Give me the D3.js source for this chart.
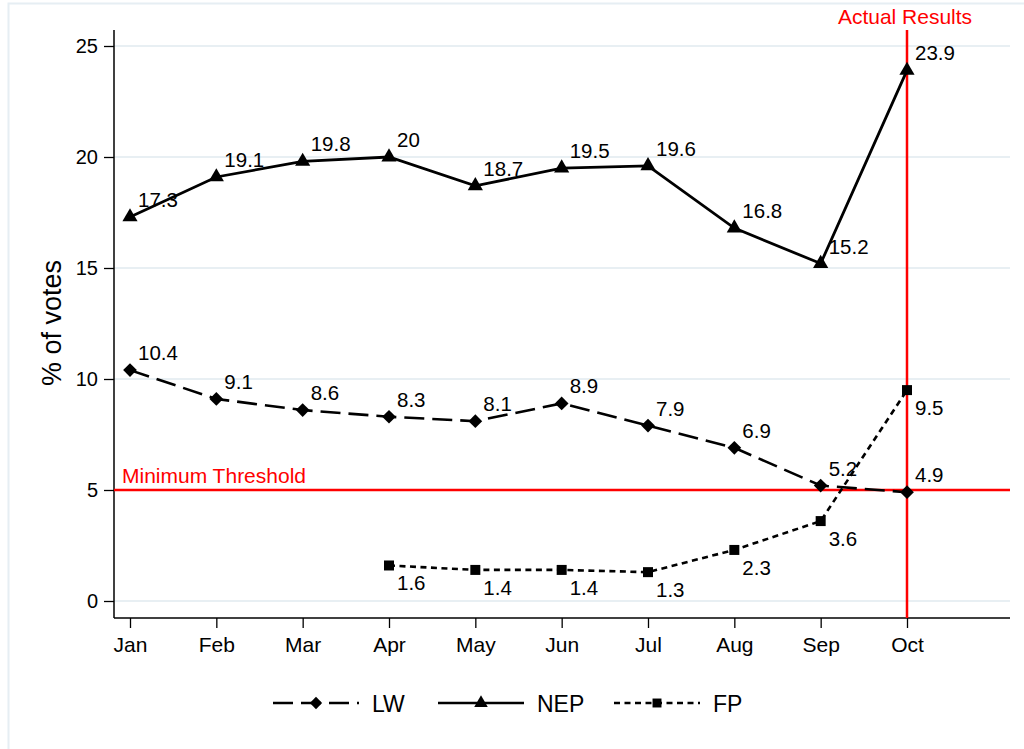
<!DOCTYPE html>
<html><head><meta charset="utf-8">
<script src="https://cdn.jsdelivr.net/npm/d3@7"></script>
<style>
body{margin:0;background:#fff;}
svg{display:block;font-family:"Liberation Sans",Arial,sans-serif;}
</style></head>
<body>
<svg id="chart" width="1024" height="749"></svg>
<script>
const months = ["Jan","Feb","Mar","Apr","May","Jun","Jul","Aug","Sep","Oct"];
const lwValues  = [10.4, 9.1, 8.6, 8.3, 8.1, 8.9, 7.9, 6.9, 5.2, 4.9];
const nepValues = [17.3, 19.1, 19.8, 20, 18.7, 19.5, 19.6, 16.8, 15.2, 23.9];
const fpMonths  = ["Apr","May","Jun","Jul","Aug","Sep","Oct"];
const fpValues  = [1.6, 1.4, 1.4, 1.3, 2.3, 3.6, 9.5];
const yTicks = [0, 5, 10, 15, 20, 25];
const threshold = 5;
const resultMonth = "Oct";

(function(){
const svg = d3.select("#chart");

// outer frame
svg.append("rect").attr("x",8.5).attr("y",3.5).attr("width",1030).attr("height",760)
  .attr("fill","none").attr("stroke","#e6eef3").attr("stroke-width",2);

const x = d3.scalePoint().domain(months).range([130, 907]);
const pLeft = 114, pRight = 1010, pTop = 30, pBottom = 618;
const y = d3.scaleLinear().domain([0, 25]).range([601, 46]);

// gridlines
svg.append("g").selectAll("line").data(yTicks).join("line")
  .attr("x1", pLeft).attr("x2", pRight)
  .attr("y1", d => y(d)).attr("y2", d => y(d))
  .attr("stroke","#e8eff3").attr("stroke-width",2);

// y axis
const yAxis = svg.append("g").attr("transform",`translate(${pLeft},0)`)
  .call(d3.axisLeft(y).tickValues(yTicks).tickSize(10).tickPadding(6));
yAxis.select(".domain").remove();
yAxis.selectAll("line").attr("stroke","#000").attr("stroke-width",1.3);
yAxis.selectAll("text").attr("font-size",20).attr("fill","#000").style("font-family","Liberation Sans, Arial, sans-serif");
svg.append("line").attr("x1",pLeft).attr("x2",pLeft).attr("y1",pTop).attr("y2",pBottom)
  .attr("stroke","#000").attr("stroke-width",1.5);

// x axis
const xAxis = svg.append("g").attr("transform",`translate(0,${pBottom})`)
  .call(d3.axisBottom(x).tickSize(10).tickPadding(9));
xAxis.select(".domain").remove();
xAxis.selectAll("line").attr("stroke","#000").attr("stroke-width",1.3);
xAxis.selectAll("text").attr("font-size",21).attr("fill","#000").style("font-family","Liberation Sans, Arial, sans-serif");
svg.append("line").attr("x1",pLeft).attr("x2",pRight).attr("y1",pBottom).attr("y2",pBottom)
  .attr("stroke","#000").attr("stroke-width",1.5);

// y title
svg.append("text").attr("transform",`translate(61,323) rotate(-90)`)
  .attr("text-anchor","middle").attr("font-size",27).attr("fill","#000").text("% of votes");

// threshold line
svg.append("line").attr("x1",pLeft).attr("x2",pRight).attr("y1",y(threshold)).attr("y2",y(threshold))
  .attr("stroke","#ff0000").attr("stroke-width",2.5);
svg.append("text").attr("x",122).attr("y",y(threshold)-7).attr("font-size",21).attr("fill","#ff0000").text("Minimum Threshold");

// actual results line
svg.append("line").attr("x1",x(resultMonth)).attr("x2",x(resultMonth)).attr("y1",pTop).attr("y2",pBottom)
  .attr("stroke","#ff0000").attr("stroke-width",2.5);
svg.append("text").attr("x",x(resultMonth)-2).attr("y",24).attr("text-anchor","middle").attr("font-size",21).attr("fill","#ff0000").text("Actual Results");

const line = d3.line().x(d => x(d.m)).y(d => y(d.v));
const lw = months.map((m,i)=>({m, v: lwValues[i]}));
const nep = months.map((m,i)=>({m, v: nepValues[i]}));
const fp = fpMonths.map((m,i)=>({m, v: fpValues[i]}));

const series = [
  {name:"LW", data: lw, dash:"20,8", width:2.6, symbol:d3.symbolDiamond2, size:120, labelDy:-10},
  {name:"NEP", data: nep, dash:null, width:2.8, symbol:d3.symbolTriangle, size:100, labelDy:-10},
  {name:"FP", data: fp, dash:"6,4.5", width:2.6, symbol:d3.symbolSquare, size:100, labelDy:25}
];

series.forEach(s => {
  svg.append("path").datum(s.data).attr("d", line).attr("fill","none")
    .attr("stroke","#000").attr("stroke-width",s.width)
    .attr("stroke-dasharray", s.dash);
  svg.append("g").selectAll("path").data(s.data).join("path")
    .attr("transform", d => `translate(${x(d.m)},${y(d.v)})`)
    .attr("d", d3.symbol().type(s.symbol).size(s.size))
    .attr("fill","#000");
  svg.append("g").selectAll("text").data(s.data).join("text")
    .attr("x", d => x(d.m) + 8)
    .attr("y", d => y(d.v) + s.labelDy)
    .attr("font-size",20.5).attr("fill","#000")
    .text(d => d.v);
});

// legend
const legendY = 703;
const legendX = [273, 438, 614];
series.forEach((s,i) => {
  const g = svg.append("g").attr("transform",`translate(${legendX[i]},${legendY})`);
  g.append("line").attr("x1",0).attr("x2",86).attr("y1",0).attr("y2",0)
    .attr("stroke","#000").attr("stroke-width",2.5).attr("stroke-dasharray", s.dash);
  g.append("path").attr("transform","translate(43,0)")
    .attr("d", d3.symbol().type(s.symbol).size(s.size*0.8)).attr("fill","#000");
  g.append("text").attr("x",99).attr("y",8.5).attr("font-size",23).attr("fill","#000").text(s.name);
});
})();
</script>
</body></html>
